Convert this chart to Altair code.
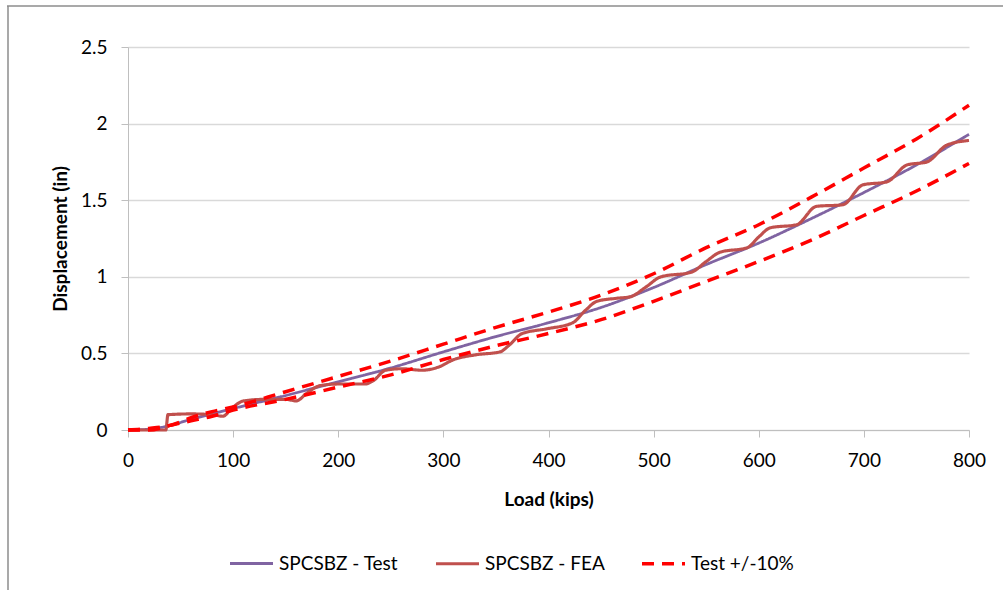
import altair as alt
import pandas as pd

# ---- data ----
series_names = ["SPCSBZ - Test", "SPCSBZ - FEA", "Test +/-10%"]
series_colors = ["#8064A2", "#C0504D", "#FF0000"]

load_test = [0, 20, 40, 60, 80, 100, 150, 200, 250, 300, 350, 400, 450, 500, 550, 600, 650, 700, 750, 800]
disp_test = [0, 0.005, 0.03, 0.07, 0.105, 0.14, 0.225, 0.315, 0.405, 0.51, 0.61, 0.70, 0.80, 0.93, 1.08, 1.22, 1.38, 1.55, 1.73, 1.93]

load_band = [0, 20, 40, 60, 80, 100, 150, 200, 250, 300, 350, 400, 450, 500, 550, 600, 650, 700, 750, 800]
disp_upper = [0, 0.01, 0.03, 0.08, 0.12, 0.15, 0.25, 0.35, 0.45, 0.56, 0.67, 0.77, 0.88, 1.02, 1.19, 1.34, 1.52, 1.71, 1.90, 2.12]
disp_lower = [0, 0.0, 0.03, 0.06, 0.09, 0.13, 0.20, 0.28, 0.36, 0.46, 0.55, 0.63, 0.72, 0.84, 0.97, 1.10, 1.24, 1.40, 1.56, 1.74]

load_fea = [0, 36, 38, 60, 80, 90, 100, 110, 130, 150, 160, 170, 183, 200, 225, 233, 245, 260, 280, 295,
            310, 330, 354, 362, 375, 398, 423, 435, 446, 465, 478, 492, 507, 536, 550, 563, 589, 600, 611, 636,
            655, 680, 699, 722, 741, 760, 779, 800]
disp_fea = [0, 0, 0.10, 0.105, 0.10, 0.09, 0.15, 0.19, 0.20, 0.20, 0.19, 0.24, 0.29, 0.30, 0.30, 0.32, 0.39, 0.40, 0.39, 0.41,
            0.46, 0.49, 0.51, 0.55, 0.63, 0.66, 0.70, 0.78, 0.84, 0.86, 0.87, 0.93, 1.00, 1.03, 1.10, 1.16, 1.19, 1.26, 1.32, 1.34,
            1.46, 1.47, 1.60, 1.62, 1.73, 1.75, 1.86, 1.89]

x_ticks = [0, 100, 200, 300, 400, 500, 600, 700, 800]
y_ticks = [0, 0.5, 1, 1.5, 2, 2.5]

# ---- long table ----
rows = []
def add(series, line, xs, ys):
    for i, (a, b) in enumerate(zip(xs, ys)):
        rows.append({"series": series, "line": line, "idx": i, "load": a, "disp": b})

add(series_names[0], "test", load_test, disp_test)
add(series_names[1], "fea", load_fea, disp_fea)
add(series_names[2], "upper", load_band, disp_upper)
add(series_names[2], "lower", load_band, disp_lower)
df = pd.DataFrame(rows)

FONT = "Lato"

legend_kw = dict(
    title=None, orient="none", legendX=100, legendY=493, direction="horizontal",
    columns=3, symbolType="stroke", symbolSize=1849, symbolStrokeWidth=3,
    labelFont=FONT, labelFontSize=19, labelColor="#000000", labelOffset=4,
    columnPadding=30, labelLimit=300,
)

lines = alt.Chart(df).mark_line(strokeCap="butt", strokeJoin="round", interpolate="monotone").encode(
    x=alt.X("load:Q", scale=alt.Scale(domain=[0, 800], nice=False),
            axis=alt.Axis(title="Load (kips)", values=x_ticks, grid=False, format="d", labelFlush=False,
                          tickSize=7, tickColor="#BFBFBF", domainColor="#BFBFBF",
                          labelPadding=14, titlePadding=20)),
    y=alt.Y("disp:Q", scale=alt.Scale(domain=[0, 2.5], nice=False),
            axis=alt.Axis(title="Displacement (in)", values=y_ticks, format="~g", labelFlush=False,
                          tickSize=7, tickColor="#BFBFBF", domainColor="#BFBFBF",
                          gridColor="#D9D9D9", gridWidth=1.3, labelPadding=14, titlePadding=10)),
    color=alt.Color("series:N", scale=alt.Scale(domain=series_names, range=series_colors),
                    legend=alt.Legend(**legend_kw)),
    strokeDash=alt.StrokeDash("series:N",
                              scale=alt.Scale(domain=series_names, range=[[1, 0], [1, 0], [12, 8]]),
                              legend=alt.Legend(**legend_kw)),
    strokeWidth=alt.StrokeWidth("series:N", scale=alt.Scale(domain=series_names, range=[2.8, 3.5, 3.2]),
                                legend=None),
    detail="line:N",
    order="idx:Q",
)

frame_df = pd.DataFrame({"k": [0]})
top_border = alt.Chart(frame_df).mark_rule(color="#8C8C8C", strokeWidth=1.5).encode(
    x=alt.value(-121), x2=alt.value(875), y=alt.value(-41))
left_border = alt.Chart(frame_df).mark_rule(color="#8C8C8C", strokeWidth=1.5).encode(
    x=alt.value(-120), y=alt.value(-41), y2=alt.value(543))

chart = alt.layer(top_border, left_border, lines).properties(
    width=841, height=383,
    autosize=alt.AutoSizeParams(type="none"),
    padding={"left": 128, "top": 47, "right": 34, "bottom": 160},
    background="white",
).configure_view(stroke=None).configure_axis(
    labelFont=FONT, labelFontSize=19, labelColor="#000000",
    titleFont=FONT, titleFontSize=19, titleFontWeight="bold", titleColor="#000000",
)

chart.save("out.html", embed_options={"renderer": "svg", "actions": False})
